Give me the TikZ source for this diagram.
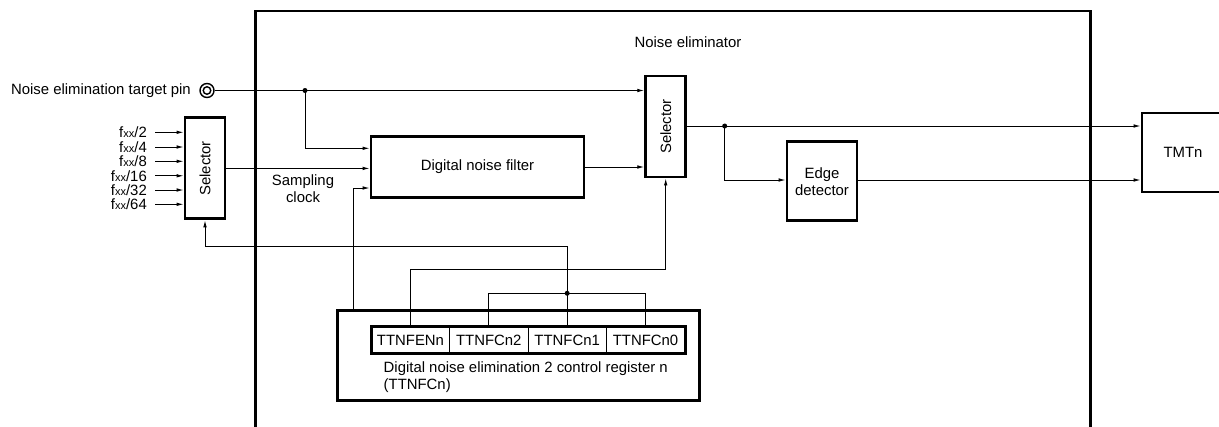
\documentclass[tikz,border=0pt]{standalone}
\usepackage{fontspec}
\setmainfont{Liberation Sans}
\usetikzlibrary{arrows.meta,calc}
\begin{document}
\begin{tikzpicture}[x=1pt,y=-1pt,
  font=\fontsize{14.9}{17}\selectfont,
  thick box/.style={draw,line width=2.9pt,inner sep=0pt},
  cellbox/.style={draw,line width=0.9pt,inner sep=0pt,minimum height=25.4pt},
  conn/.style={line width=0.9pt},
  arr/.style={conn,-{Latex[length=7pt,width=3.6pt]}},
  dot/.style={circle,fill,inner sep=0pt,minimum size=5pt},
  lbl/.style={inner sep=0pt}]
\useasboundingbox (0,0) rectangle (1219,426);

% outer noise eliminator frame (open at bottom)
\draw[line width=2.9pt] (255.5,430) -- (255.5,11) -- (1090.7,11) -- (1090.7,430);
\node[lbl] (title) at (688,42) {Noise eliminator};

% pin
\node[lbl,anchor=east] (pinlbl) at (191,90.5) {Noise elimination target pin};
\node[circle,draw,line width=1.4pt,minimum size=14pt,inner sep=0pt] (pin) at (207,90.5) {};
\node[circle,draw,line width=1.4pt,minimum size=7.5pt,inner sep=0pt] (pinin) at (207,90.5) {};

% blocks
\node[thick box,minimum width=40pt,minimum height=101pt] (sel1) at (205,168.4) {\rotatebox{90}{Selector}};
\node[thick box,minimum width=213pt,minimum height=61pt] (filter) at (477.5,167) {Digital noise filter};
\node[thick box,minimum width=40pt,minimum height=101pt] (sel2) at (665.7,126.5) {\rotatebox{90}{Selector}};
\node[thick box,minimum width=70pt,minimum height=79pt,align=center] (edge) at (822,181.4) {Edge\\detector};
\node[thick box,minimum width=96pt,minimum height=79pt] (tmtn) at (1190,152.5) {\hspace*{-14pt}TMTn};

% register
\node[thick box,minimum width=362pt,minimum height=90.7pt] (reg) at (518.3,355.4) {};
\node[cellbox,minimum width=77.6pt] (c1) at (410.5,340) {TTNFENn};
\node[cellbox,minimum width=79pt] (c2) at (488.8,340) {TTNFCn2};
\node[cellbox,minimum width=77.7pt] (c3) at (567.15,340) {TTNFCn1};
\node[cellbox,minimum width=79pt] (c4) at (645.5,340) {TTNFCn0};
\draw[line width=2.9pt] (c1.north west) rectangle (c4.south east);
\node[lbl,anchor=west,align=left] (regtxt) at (383.5,377.5) {Digital noise elimination 2 control register n\\(TTNFCn)};

% clock inputs
\foreach \y/\t [count=\i] in {132.3/2,147/4,161.3/8,175.8/16,190/32,204.3/64}{
  \node[lbl,anchor=east] (f\i) at (147,\y) {f{\fontsize{11}{12}\selectfont xx}/\t};
  \coordinate (s\i) at (155,\y);
  \draw[arr] (s\i) -- (sel1.west |- s\i);
}
\node[lbl,align=center] (samp) at (303,189) {Sampling\\clock};

% junctions
\coordinate (j1) at (305,90.5);
\coordinate (j2) at (724.7,126);
\coordinate (j3) at (567.15,293.3);
\node[dot] at (j1) {};
\node[dot] at (j2) {};
\node[dot] at (j3) {};

% connectors
\draw[arr] (pin.east) -- (sel2.west |- pin);
\draw[arr] (j1) |- ($(filter.west)+(0,-18.7)$);
\draw[arr] (sel1.east) -- (sel1.east -| filter.west);
\draw[arr] (reg.north -| 353.3,0) |- ($(filter.west)+(0,21)$);
\draw[arr] (filter.east) -- (filter.east -| sel2.west);
\draw[arr] (sel2.east |- j2) -- (tmtn.west |- j2);
\draw[arr] (j2) |- (edge.west |- 0,180);
\draw[arr] (edge.east |- 0,180) -- (tmtn.west |- 0,180);
\draw[arr] (c1.north) |- (665.7,269.3) -- (sel2.south);
\draw[arr] (c3.north) |- (205,246) -- (sel1.south);
\draw[conn] (c2.north) |- (j3) -| (c4.north);
\end{tikzpicture}
\end{document}
